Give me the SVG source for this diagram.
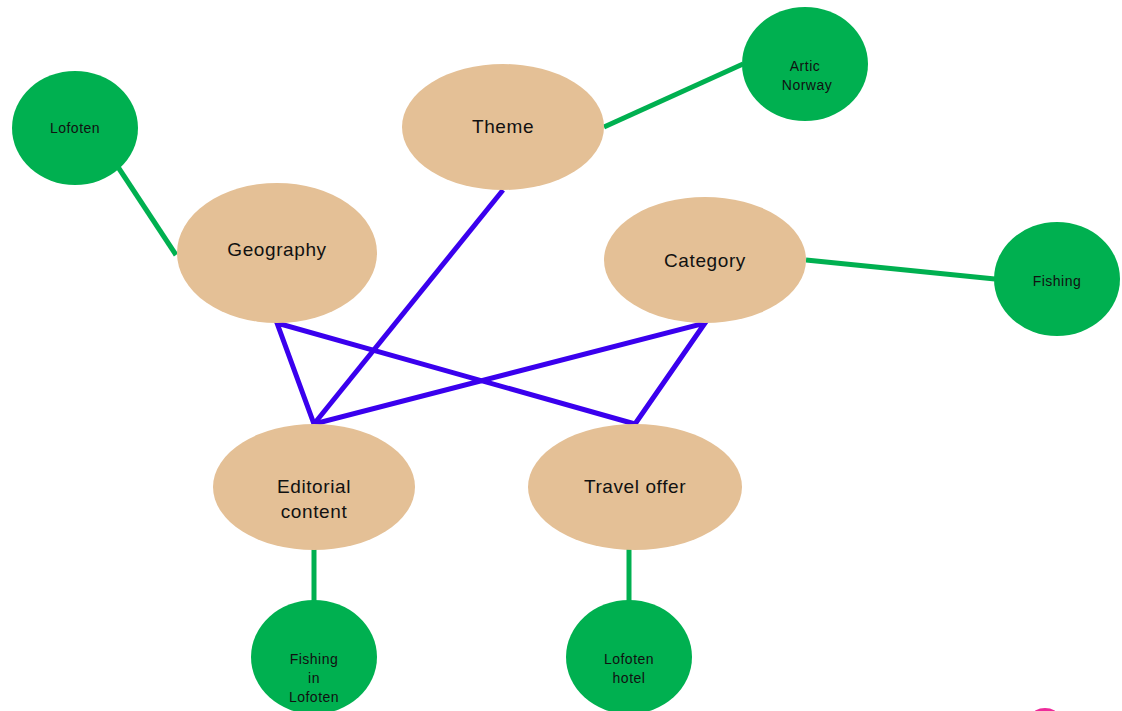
<svg xmlns="http://www.w3.org/2000/svg" width="1122" height="711" viewBox="0 0 1122 711">
  <style>
    .main ellipse { fill: #e4c096; }
    .leaf ellipse { fill: #00b050; }
    .main text { font-family: "Liberation Sans", Arial, sans-serif; font-size: 19px; letter-spacing: 0.6px; fill: #111; text-anchor: middle; }
    .leaf text { font-family: "Liberation Sans", Arial, sans-serif; font-size: 14px; letter-spacing: 0.5px; fill: #111; text-anchor: middle; }
    .g { stroke: #00b050; stroke-width: 5; fill: none; }
    .b { stroke: #3a00ee; stroke-width: 5; fill: none; stroke-linejoin: miter; }
  </style>
  <rect width="1122" height="711" fill="#ffffff"/>

  <g id="connectors">
    <line class="g" x1="118" y1="167" x2="176" y2="255"/>
    <line class="g" x1="604" y1="127" x2="743" y2="64"/>
    <line class="g" x1="806" y1="260" x2="995" y2="279"/>
    <line class="g" x1="314" y1="549" x2="314" y2="602"/>
    <line class="g" x1="629" y1="549" x2="629" y2="602"/>
    <line class="b" x1="503" y1="190" x2="314" y2="424"/>
    <polyline class="b" points="635,424 277,323 314,424 705,323 635,424"/>
  </g>

  <g id="lofoten" class="leaf">
    <ellipse cx="75" cy="128" rx="63" ry="57"/>
    <text x="75" y="133">Lofoten</text>
  </g>
  <g id="artic-norway" class="leaf">
    <ellipse cx="805" cy="64" rx="63" ry="57"/>
    <text x="805" y="71">Artic</text>
    <text x="807" y="90">Norway</text>
  </g>
  <g id="theme" class="main">
    <ellipse cx="503" cy="127" rx="101" ry="63"/>
    <text x="503" y="133">Theme</text>
  </g>
  <g id="geography" class="main">
    <ellipse cx="277" cy="253" rx="100" ry="70"/>
    <text x="277" y="256">Geography</text>
  </g>
  <g id="category" class="main">
    <ellipse cx="705" cy="260" rx="101" ry="63"/>
    <text x="705" y="267">Category</text>
  </g>
  <g id="fishing" class="leaf">
    <ellipse cx="1057" cy="279" rx="63" ry="57"/>
    <text x="1057" y="286">Fishing</text>
  </g>
  <g id="editorial-content" class="main">
    <ellipse cx="314" cy="487" rx="101" ry="63"/>
    <text x="314" y="493">Editorial</text>
    <text x="314" y="518">content</text>
  </g>
  <g id="travel-offer" class="main">
    <ellipse cx="635" cy="487" rx="107" ry="63"/>
    <text x="635" y="493">Travel offer</text>
  </g>
  <g id="fishing-in-lofoten" class="leaf">
    <ellipse cx="314" cy="657" rx="63" ry="57"/>
    <text x="314" y="664">Fishing</text>
    <text x="314" y="683">in</text>
    <text x="314" y="702">Lofoten</text>
  </g>
  <g id="lofoten-hotel" class="leaf">
    <ellipse cx="629" cy="657" rx="63" ry="57"/>
    <text x="629" y="664">Lofoten</text>
    <text x="629" y="683">hotel</text>
  </g>

  <ellipse cx="1045" cy="716" rx="13" ry="8" fill="#ee2a9a"/>
</svg>
